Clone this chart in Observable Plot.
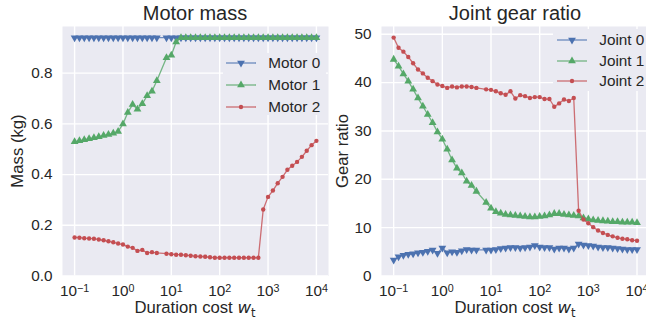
<!DOCTYPE html>
<html><head><meta charset="utf-8">
<script src="https://cdn.jsdelivr.net/npm/d3@7"></script>
<script src="https://cdn.jsdelivr.net/npm/@observablehq/plot@0.6"></script>
<style>
body{margin:0;background:#fff;}
#wrap{position:relative;width:646px;height:320px;overflow:hidden;font-family:"Liberation Sans",Arial,sans-serif;color:#262626;}
.panel{position:absolute;top:0;}
.title{position:absolute;font-size:20px;line-height:22px;white-space:nowrap;transform:translate(-50%,-50%);}
.xlabel{position:absolute;font-size:16.7px;line-height:20px;white-space:nowrap;transform:translate(-50%,-50%);}
.ylabel{position:absolute;font-size:16.7px;line-height:20px;white-space:nowrap;transform:translate(-50%,-50%) rotate(-90deg);}
.w{font-family:"DejaVu Sans";font-style:italic;}
.sub{font-family:"DejaVu Sans";font-size:11.5px;position:relative;top:4px;}
.lgbox{position:absolute;background:#EAEAF2;}
.lgtext{position:absolute;font-size:15.3px;line-height:20px;white-space:nowrap;}
.lgsym{position:absolute;}
</style>
</head><body>
<div id="wrap"></div>
<script>
// Duration cost w_t (one sample of the sweep is absent)
const wt = [0.1,0.1259,0.1585,0.1995,0.2512,0.3162,0.3981,0.5012,0.6310,0.7943,
  1,1.259,1.585,1.995,2.512,3.162,3.981,5.012,7.943,
  10,12.59,15.85,19.95,25.12,31.62,39.81,50.12,63.10,79.43,
  100,125.9,158.5,199.5,251.2,316.2,398.1,501.2,631.0,794.3,
  1000,1259,1585,1995,2512,3162,3981,5012,6310,7943,10000];

// Motor mass (kg)
const motor0 = [0.94,0.94,0.94,0.94,0.94,0.94,0.94,0.94,0.94,0.94,
  0.94,0.94,0.94,0.94,0.94,0.94,0.94,0.94,0.94,
  0.94,0.94,0.94,0.94,0.94,0.94,0.94,0.94,0.94,0.94,
  0.94,0.94,0.94,0.94,0.94,0.94,0.94,0.94,0.94,0.94,
  0.94,0.94,0.94,0.94,0.94,0.94,0.94,0.94,0.94,0.94,0.94];
const motor1 = [0.529,0.533,0.537,0.541,0.545,0.549,0.554,0.558,0.563,0.570,
  0.599,0.645,0.676,0.658,0.679,0.711,0.729,0.770,0.861,
  0.871,0.923,0.94,0.94,0.94,0.94,0.94,0.94,0.94,0.94,
  0.94,0.94,0.94,0.94,0.94,0.94,0.94,0.94,0.94,0.94,
  0.94,0.94,0.94,0.94,0.94,0.94,0.94,0.94,0.94,0.94,0.94];
const motor2 = [0.152,0.151,0.149,0.148,0.147,0.144,0.141,0.137,0.133,0.128,
  0.124,0.116,0.111,0.099,0.103,0.091,0.094,0.091,0.088,
  0.086,0.084,0.084,0.082,0.080,0.078,0.077,0.076,0.074,0.072,
  0.072,0.072,0.072,0.072,0.072,0.072,0.072,0.072,0.072,0.262,
  0.312,0.337,0.366,0.391,0.419,0.435,0.450,0.470,0.494,0.516,0.533,0.553];

// Joint gear ratio
const joint0 = [3.3,4.0,4.3,4.5,4.6,4.8,4.9,5.1,5.4,4.7,
  5.8,4.8,5.0,4.9,5.2,5.5,5.4,5.4,5.4,
  5.4,5.5,5.7,5.8,5.9,5.9,5.8,5.9,6.0,6.3,
  6.0,5.9,5.9,5.6,5.8,5.8,5.6,5.8,6.6,6.4,
  6.3,6.2,6.0,5.9,5.9,5.8,5.7,5.6,5.5,5.5,5.5];
const joint1 = [44.8,43.4,41.8,40.3,38.6,36.8,35.1,33.4,31.7,29.8,
  28.3,26.2,24.0,22.3,21.3,19.6,18.7,17.5,15.2,
  14.0,13.3,13.0,12.7,12.6,12.5,12.4,12.3,12.2,12.2,
  12.3,12.4,12.6,12.9,12.9,12.7,12.6,12.5,12.4,12.0,
  11.8,11.6,11.5,11.4,11.3,11.2,11.2,11.1,11.1,11.1,11.0];
const joint2 = [49.3,47.2,46.4,45.3,44.0,42.7,41.9,41.0,40.3,39.6,
  39.3,38.9,39.2,39.0,39.2,39.2,39.1,38.9,38.6,
  38.5,38.2,37.8,37.5,38.2,36.7,37.4,37.2,36.8,37.0,
  37.0,36.6,36.6,35.0,35.7,36.5,36.2,36.8,13.5,11.7,
  10.9,10.1,9.4,8.9,8.5,8.2,7.9,7.7,7.6,7.4,7.3];

const xTicks = [0.1,1,10,100,1000,10000];
const yTicksMass = [0,0.2,0.4,0.6,0.8];
const yTicksGear = [0,10,20,30,40,50];
const motorNames = ["Motor 0","Motor 1","Motor 2"];
const jointNames = ["Joint 0","Joint 1","Joint 2"];
const titles = ["Motor mass","Joint gear ratio"];
const yLabels = ["Mass (kg)","Gear ratio"];

const colors = ["#4C72B0","#55A868","#C44E52"];
const styles = [
  {symbol:"triangle", r:2.9, rotate:180},
  {symbol:"triangle", r:2.9, rotate:0},
  {symbol:"circle", r:2.2, rotate:0}
];

const rows = wt.map((w,i)=>({wt:w, m0:motor0[i], m1:motor1[i], m2:motor2[i], j0:joint0[i], j1:joint1[i], j2:joint2[i]}));

const expStr = d => { const e = Math.round(Math.log10(d)); return "10^" + (e < 0 ? "\u2212" + (-e) : e); };

function seriesMarks(keys){
  const m = [];
  keys.forEach((k,i)=>{
    m.push(Plot.line(rows,{x:"wt",y:k,stroke:colors[i],strokeWidth:1.3,strokeOpacity:0.8}));
    m.push(Plot.dot(rows,{x:"wt",y:k,fill:colors[i],stroke:null,symbol:styles[i].symbol,r:styles[i].r,rotate:styles[i].rotate}));
  });
  return m;
}

function makePanel(opts){
  return Plot.plot({
    width: opts.width, height: 320,
    marginLeft: opts.ml, marginRight: opts.mr, marginTop: 26, marginBottom: 44.5,
    x: {type:"log", domain: opts.xDomain},
    y: {domain: opts.yDomain},
    style: {fontFamily:'"Liberation Sans", Arial, sans-serif', fontSize:"15.3px", color:"#262626", background:"transparent", overflow:"visible"},
    marks: [
      Plot.frame({fill:"#EAEAF2", stroke:null}),
      Plot.gridX(xTicks,{stroke:"white", strokeOpacity:1, strokeWidth:1.4}),
      Plot.gridY(opts.yTicks,{stroke:"white", strokeOpacity:1, strokeWidth:1.4}),
      Plot.axisX(xTicks,{tickSize:0, tickPadding:9.5, tickFormat:expStr, label:null}),
      Plot.axisY(opts.yTicks,{tickSize:0, tickPadding:10, tickFormat:opts.yFmt, label:null}),
      ...seriesMarks(opts.keys)
    ]
  });
}

function superscript(svg){
  const ns = "http://www.w3.org/2000/svg";
  svg.querySelectorAll('g[aria-label="x-axis tick label"] text').forEach(t=>{
    const s = t.textContent; const parts = s.split("^");
    if (parts.length < 2) return;
    t.textContent = "";
    const a = document.createElementNS(ns,"tspan"); a.textContent = parts[0];
    const b = document.createElementNS(ns,"tspan"); b.textContent = parts[1];
    b.setAttribute("dy","-0.45em"); b.setAttribute("font-size","0.7em");
    t.append(a,b);
  });
}

const wrap = document.getElementById("wrap");

const left = makePanel({width:335, ml:62, mr:7, xDomain:[10**-1.25,10**4.25], yDomain:[0,0.984], yTicks:yTicksMass, yFmt:d=>d.toFixed(1), keys:["m0","m1","m2"]});
const right = makePanel({width:311, ml:46, mr:0, xDomain:[10**-1.25,10**4.195], yDomain:[0,51.6], yTicks:yTicksGear, yFmt:d=>String(d), keys:["j0","j1","j2"]});
superscript(left); superscript(right);
left.classList.add("panel"); left.style.left = "0px";
right.classList.add("panel"); right.style.left = "335px";
wrap.append(left, right);

function addDiv(cls, x, y, html){
  const d = document.createElement("div"); d.className = cls;
  d.style.left = x + "px"; d.style.top = y + "px"; d.innerHTML = html;
  wrap.append(d); return d;
}
addDiv("title", 195, 13, titles[0]);
addDiv("title", 515, 13, titles[1]);
addDiv("xlabel", 195, 308, 'Duration cost <span class="w">w</span><span class="sub">t</span>');
addDiv("xlabel", 515, 308, 'Duration cost <span class="w">w</span><span class="sub">t</span>');
addDiv("ylabel", 18, 151, yLabels[0]);
addDiv("ylabel", 343, 151, yLabels[1]);

function legend(names, box, lineX, textX, ys){
  const b = document.createElement("div"); b.className = "lgbox";
  Object.assign(b.style,{left:box[0]+"px", top:box[1]+"px", width:box[2]+"px", height:box[3]+"px"});
  wrap.append(b);
  names.forEach((n,i)=>{
    const sym = d3.symbol(styles[i].symbol === "circle" ? d3.symbolCircle : d3.symbolTriangle, Math.PI*styles[i].r**2)();
    const s = document.createElement("div"); s.className = "lgsym";
    Object.assign(s.style,{left:lineX+"px", top:(ys[i]-8)+"px"});
    s.innerHTML = `<svg width="30" height="16"><line x1="0" x2="30" y1="8" y2="8" stroke="${colors[i]}" stroke-width="1.3" stroke-opacity="0.8"/><path d="${sym}" transform="translate(15,8) rotate(${styles[i].rotate})" fill="${colors[i]}"/></svg>`;
    wrap.append(s);
    addDiv("lgtext", textX, ys[i]-10, n);
  });
}
legend(motorNames, [222.7,53,103,62], 226, 268.3, [63,85.2,107.2]);
legend(jointNames, [553,29,100,62], 557, 599.3, [39.7,60.5,81.3]);
</script>
</body></html>
